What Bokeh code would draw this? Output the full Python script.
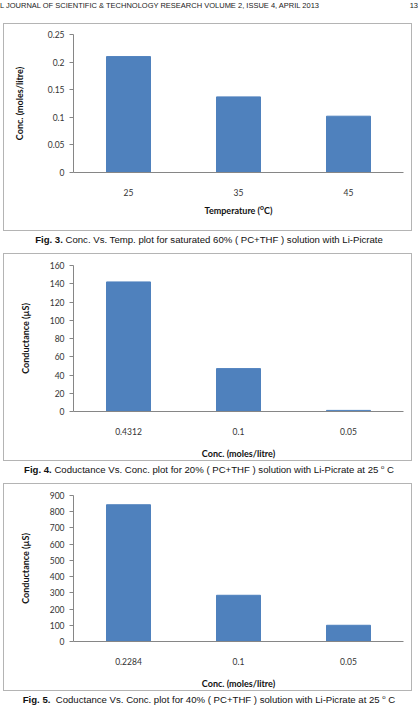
from bokeh.plotting import figure
from bokeh.models import (Div, FactorRange, Range1d, FixedTicker,
                          CustomJSTickFormatter, ColumnDataSource)
from bokeh.layouts import column
from bokeh.embed import file_html
from bokeh.resources import INLINE

# ---------------- data ----------------
fig3_temps = ["25", "35", "45"]
fig3_conc = [0.210, 0.137, 0.102]
fig3_yticks = [0, 0.05, 0.1, 0.15, 0.2, 0.25]

fig4_conc = ["0.4312", "0.1", "0.05"]
fig4_cond = [142, 47, 1.2]
fig4_yticks = [0, 20, 40, 60, 80, 100, 120, 140, 160]

fig5_conc = ["0.2284", "0.1", "0.05"]
fig5_cond = [843, 285, 100]
fig5_yticks = [0, 100, 200, 300, 400, 500, 600, 700, 800, 900]

header_text = "L JOURNAL OF SCIENTIFIC &amp; TECHNOLOGY RESEARCH VOLUME 2, ISSUE 4, APRIL 2013"
page_no = "13"
captions = [
    ("Fig. 3.", "Conc. Vs. Temp. plot for saturated 60% ( PC+THF ) solution with Li-Picrate"),
    ("Fig. 4.", "Coductance Vs. Conc. plot for 20% ( PC+THF ) solution with Li-Picrate at 25 <sup style='font-size:6px'>o</sup> C"),
    ("Fig. 5.", "&nbsp;Coductance Vs. Conc. plot for 40% ( PC+THF ) solution with Li-Picrate at 25 <sup style='font-size:6px'>o</sup> C"),
]

BAR = "#4F81BD"
AXIS = "#868686"
FONT = "Lato"


def chart(cats, vals, ticks, xlabel, ylabel, top, bottom, ylab_standoff, xlab_standoff, fmt=None):
    p = figure(x_range=FactorRange(*cats), y_range=Range1d(ticks[0], ticks[-1]),
               width=409, height=208, output_backend="svg", toolbar_location=None,
               min_border_left=69, min_border_right=10, min_border_top=top,
               min_border_bottom=bottom, margin=(0, 0, 0, 3),
               styles={"border": "1px solid #b4b4b4"})
    src = ColumnDataSource(dict(x=cats, top=vals))
    p.vbar(x="x", top="top", width=0.4, source=src, fill_color=BAR, line_color=BAR)
    p.outline_line_color = None
    p.grid.visible = False
    p.background_fill_color = "white"

    ya = p.yaxis[0]
    ya.ticker = FixedTicker(ticks=ticks)
    if fmt is not None:
        ya.formatter = fmt
    ya.axis_line_color = AXIS
    ya.major_tick_line_color = AXIS
    ya.major_tick_out = 4
    ya.major_tick_in = 0
    ya.minor_tick_line_color = None
    ya.major_label_standoff = 5
    ya.major_label_text_font = FONT
    ya.major_label_text_font_size = "8.5px"
    ya.major_label_text_color = "#333333"
    ya.axis_label = ylabel
    ya.axis_label_text_font = FONT
    ya.axis_label_text_font_style = "bold"
    ya.axis_label_text_font_size = "9px"
    ya.axis_label_text_color = "#111111"
    ya.axis_label_standoff = ylab_standoff

    xa = p.xaxis[0]
    xa.axis_line_color = AXIS
    xa.major_tick_line_color = None
    xa.minor_tick_line_color = None
    xa.major_label_standoff = 10
    xa.major_label_text_font = FONT
    xa.major_label_text_font_size = "8.5px"
    xa.major_label_text_color = "#333333"
    xa.axis_label = xlabel
    xa.axis_label_text_font = FONT
    xa.axis_label_text_font_style = "bold"
    xa.axis_label_text_font_size = "9px"
    xa.axis_label_text_color = "#111111"
    xa.axis_label_standoff = xlab_standoff
    return p


def caption_div(bold, rest, h):
    html = ("<div style=\"width:418px;text-align:center;font-family:'Liberation Sans',Arial,sans-serif;"
            "font-size:9.6px;line-height:13px;color:#111;white-space:nowrap;\">"
            "<b>%s</b> %s</div>" % (bold, rest))
    return Div(text=html, width=418, height=h, margin=(0, 0, 0, 0))


fmt3 = CustomJSTickFormatter(code="return (Math.round(tick*1000)/1000).toString();")

p3 = chart(fig3_temps, fig3_conc, fig3_yticks, "Temperature (\u1D3CC)", "Conc. (moles/litre)",
           10, 60, 20, 6, fmt3)
p4 = chart(fig4_conc, fig4_cond, fig4_yticks, "Conc. (moles/litre)", "Conductance (\u00B5S)",
           11, 51, 16, 10)
p5 = chart(fig5_conc, fig5_cond, fig5_yticks, "Conc. (moles/litre)", "Conductance (\u00B5S)",
           11, 51, 16, 10)

header = Div(text=("<div style=\"position:relative;top:-4px;width:418px;height:12px;"
                   "font-family:'Liberation Sans',Arial,sans-serif;font-size:7.5px;color:#222;"
                   "white-space:nowrap;\">%s<span style=\"position:absolute;right:0;top:0\">%s</span></div>")
             % (header_text, page_no), width=418, height=23, margin=(0, 0, 0, 0))

layout = column(header, p3, caption_div(*captions[0], 22), p4, caption_div(*captions[1], 22),
                p5, caption_div(*captions[2], 24), spacing=0, margin=(0, 0, 0, 0))

with open("out.html", "w") as f:
    f.write(file_html(layout, INLINE))
